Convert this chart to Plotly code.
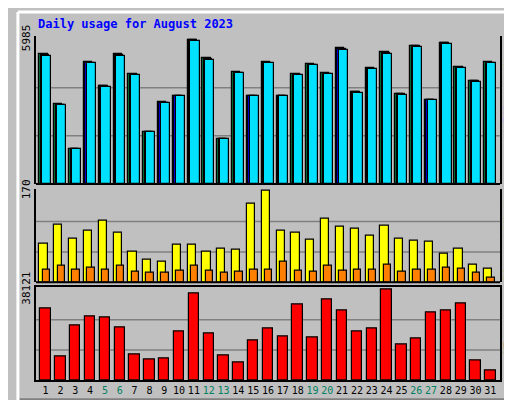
import plotly.graph_objects as go

days = list(range(1, 32))
weekend = [5, 6, 12, 13, 19, 20, 26, 27]
hits = [5373, 3297, 1465, 5047, 4070, 5373, 4559, 2157, 3379, 3664, 5985, 5210, 1872, 4640, 3664, 5047, 3664, 4559, 4966, 4600, 5617, 3826, 4803, 5454, 3745, 5739, 3501, 5861, 4844, 4274, 5047]
files = [h * 0.995 for h in hits]
pages = [h * 0.99 for h in hits]
visits = [72, 107, 81, 96, 115, 92, 57, 42, 39, 70, 70, 57, 63, 61, 146, 170, 96, 92, 79, 118, 103, 100, 87, 105, 81, 78, 76, 54, 63, 33, 26]
sites = [24, 30, 24, 28, 24, 31, 20, 18, 18, 22, 30, 22, 17, 20, 24, 24, 39, 22, 20, 31, 22, 24, 24, 33, 20, 24, 24, 28, 26, 17, 9]
kbytes = [30163, 10054, 22933, 26704, 26285, 22095, 10892, 8798, 9217, 20419, 36446, 19582, 10473, 7542, 16760, 21676, 18341, 31838, 17922, 33935, 29326, 20419, 21676, 38121, 15084, 17598, 28488, 29326, 32257, 8379, 4190]

BG = "#c0c0c0"
fig = go.Figure()
def bar(y, color, off, w, ya):
    fig.add_trace(go.Bar(x=days, y=y, offset=off, width=w, marker=dict(color=color, line=dict(color="black", width=1.2)), xaxis="x", yaxis=ya, showlegend=False))

bar(hits, "#008040", -0.42, 0.55, "y")
bar(files, "#0000ff", -0.32, 0.55, "y")
bar(pages, "#00e0ff", -0.24, 0.62, "y")
bar(visits, "#ffff00", -0.42, 0.55, "y2")
bar(sites, "#ff8000", -0.2, 0.5, "y2")
bar(kbytes, "#ff0000", -0.35, 0.7, "y3")

mono = "DejaVu Sans Mono"
ticktext = [f"<span style='color:#008060'>{d}</span>" if d in weekend else str(d) for d in days]
axcommon = dict(showline=True, linecolor="black", linewidth=2, mirror=True, showgrid=False, zeroline=False)
shapes = []
def yax(dom, mx, anchor):
    for f in (1/3, 2/3):
        shapes.append(dict(type="line", xref="x domain", yref=anchor, x0=0, x1=1, y0=mx*f, y1=mx*f, line=dict(color="#808080", width=1.5), layer="below"))
    return dict(domain=dom, range=[0, mx * 1.025], tickvals=[mx], ticktext=[str(mx)], tickangle=-90, ticks="", tickfont=dict(family=mono, size=11, color="black"), **axcommon)

fig.update_layout(
    width=512, height=400, paper_bgcolor=BG, plot_bgcolor=BG,
    margin=dict(l=20, r=20, t=26, b=25), barmode="overlay", bargap=0,
    xaxis=dict(range=[0.35, 31.65], tickvals=days, ticktext=ticktext, ticks="", tickangle=0, tickfont=dict(family=mono, size=10, color="black"), anchor="y3", **axcommon),
    yaxis=yax([0.570, 1], 5985, "y"),
    yaxis2=yax([0.284, 0.556], 170, "y2"),
    yaxis3=yax([0, 0.269], 38121, "y3"),
)
for ya in ("y", "y2"):
    shapes.append(dict(type="line", xref="paper", yref=f"{ya} domain", x0=0, x1=1, y0=0, y1=0, line=dict(color="black", width=2)))
shapes += [
    dict(type="line", xref="paper", yref="paper", x0=-0.039, x1=-0.039, y0=-0.07, y1=1.07, line=dict(color="white", width=3)),
    dict(type="line", xref="paper", yref="paper", x0=-0.039, x1=1.039, y0=1.07, y1=1.07, line=dict(color="white", width=3)),
    dict(type="line", xref="paper", yref="paper", x0=1.032, x1=1.032, y0=-0.06, y1=1.06, line=dict(color="#808080", width=5)),
    dict(type="line", xref="paper", yref="paper", x0=-0.035, x1=1.032, y0=-0.06, y1=-0.06, line=dict(color="#808080", width=5)),
]
fig.update_layout(shapes=shapes)
def side(text, y):
    fig.add_annotation(text=text, xref="paper", yref="paper", x=1.0, xshift=9, y=y, xanchor="center", yanchor="middle", textangle=-90, showarrow=False, font=dict(family=mono, size=11))
side("<span style='color:#00c0c0'>Pages</span> / <span style='color:#0000ff'>Files</span> / <span style='color:#008040'>Hits</span>", 0.785)
side("<span style='color:#ff8000'>Sites</span> / <span style='color:#c0c000'>Visits</span>", 0.42)
side("<span style='color:#ff0000'>KBytes</span>", 0.135)
fig.add_annotation(text="<b>Daily usage for August 2023</b>", xref="paper", yref="paper", x=0, y=1.0, xanchor="left", yanchor="bottom", yshift=3, showarrow=False, font=dict(family=mono, size=12, color="#0000ff"))
fig.write_html("out.html")
